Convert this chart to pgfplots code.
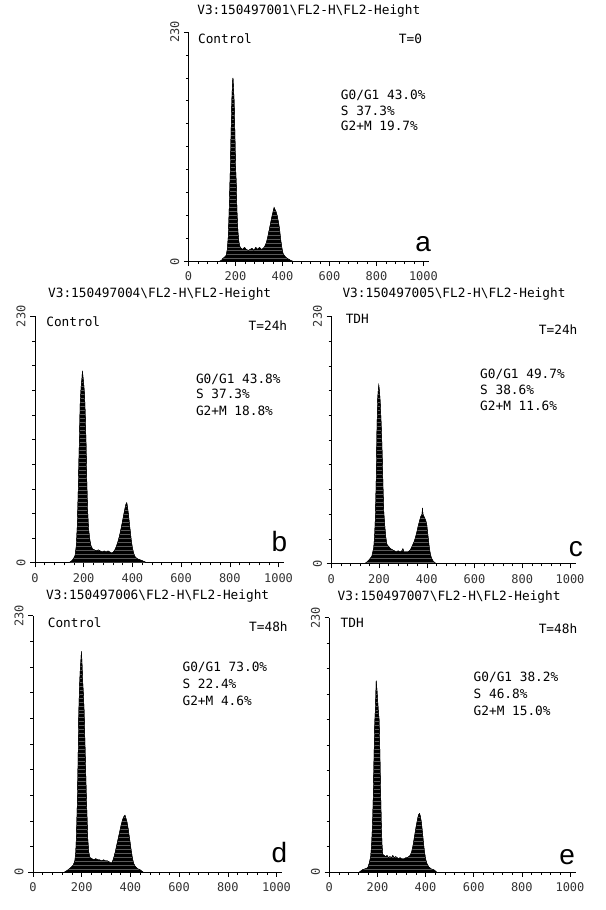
\documentclass[border=0pt]{standalone}
\usepackage{fontspec}
\setmonofont{DejaVu Sans Mono}
\newfontfamily\lettfont{Liberation Sans}
\usepackage{pgfplots}
\pgfplotsset{compat=1.18}
\usetikzlibrary{patterns}

\newcommand{\mt}{\ttfamily\fontsize{9.6}{11}\selectfont}
\newcommand{\tk}{\ttfamily\fontsize{9}{10}\selectfont}
\newcommand{\bs}{\textbackslash}

\pgfplotsset{
  facs/.style={
    scale only axis, anchor=south west, clip=false,
    xmin=0, xmax=1024, ymin=0, ymax=230,
    axis x line=bottom, axis y line=left,
    axis line style={-, black, line width=0.5pt},
    xtick={0,200,400,600,800,1000},
    xticklabels={0,200,400,600,800,1000},
    minor x tick num=4,
    ytick={0,230}, yticklabels={0,230},
    minor ytick={23,46,69,92,115,138,161,184,207},
    tick align=outside,
    major tick length=3.5pt, minor tick length=2pt,
    tick style={black, line width=0.4pt},
    xticklabel style={font=\tk, text=black!80, yshift=-1pt},
    yticklabel style={font=\tk, text=black!80, rotate=90, anchor=south},
    every node/.append style={text=black!80},
  },
  hist/.style={draw=black, line width=0.3pt, fill=black,
    postaction={pattern=horizontal lines, pattern color=white!35!black}},
}

\begin{document}
\begin{tikzpicture}
\path (0,0) rectangle (455.25pt,682.5pt);

% panel a
\begin{axis}[facs, at={(141.75pt,487.5pt)}, width=180.75pt, height=172.5pt]
\addplot[hist] coordinates {(130,0)(140,1)(146,3)(152,4)(160,6)(165,12)(169,25)(172,45)(175,70)(178,95)(181,130)(184,160)(187,180)(189,184)(191,175)(194,160)(197,130)(200,95)(203,78)(206,50)(210,30)(214,20)(218,15)(224,13)(230,12)(238,14)(246,12)(254,11)(262,12)(270,13)(278,11)(286,14)(294,12)(302,14)(310,12)(318,13)(324,15)(330,18)(336,23)(342,30)(348,37)(354,44)(360,50)(364,54)(368,52)(372,50)(377,46)(382,40)(387,33)(392,22)(397,14)(402,8)(410,5)(420,3)(435,1)(445,0)} \closedcycle;
\node[font=\mt, anchor=south] at (rel axis cs:0.5,1.045) {V3:150497001\bs FL2-H\bs FL2-Height};
\node[font=\mt, anchor=west] at (rel axis cs:0.02,0.97) {Control};
\node[font=\mt, anchor=east] at (rel axis cs:0.99,0.97) {T=0};
\node[font=\mt, anchor=west] at (rel axis cs:0.614,0.722) {G0/G1 43.0\%};
\node[font=\mt, anchor=west] at (rel axis cs:0.614,0.657) {S 37.3\%};
\node[font=\mt, anchor=west] at (rel axis cs:0.614,0.591) {G2+M 19.7\%};
\node[font=\lettfont\fontsize{21}{21}\selectfont, text=black] at (rel axis cs:0.975,0.075) {a};
\end{axis}

% panel b
\begin{axis}[facs, at={(26.25pt,261pt)}, width=187.5pt, height=185.25pt]
\addplot[hist] coordinates {(140,0)(152,2)(159,4)(165,7)(170,16)(174,35)(177,60)(180,90)(183,120)(186,150)(190,165)(193,172)(195,179)(198,172)(201,165)(204,155)(207,135)(210,110)(213,75)(216,50)(220,32)(225,22)(230,16)(236,13)(244,12)(252,11)(260,12)(268,11)(276,10)(284,11)(292,10)(300,11)(308,10)(316,9)(322,10)(328,12)(334,15)(340,19)(346,24)(352,30)(358,37)(364,44)(369,50)(374,55)(377,56)(380,52)(384,45)(388,36)(392,28)(396,20)(400,14)(405,9)(410,6)(418,4)(428,3)(440,2)(450,1)(458,0)} \closedcycle;
\node[font=\mt, anchor=south] at (rel axis cs:0.5,1.045) {V3:150497004\bs FL2-H\bs FL2-Height};
\node[font=\mt, anchor=west] at (rel axis cs:0.027,0.98) {Control};
\node[font=\mt, anchor=east] at (rel axis cs:1.03,0.963) {T=24h};
\node[font=\mt, anchor=west] at (rel axis cs:0.627,0.746) {G0/G1 43.8\%};
\node[font=\mt, anchor=west] at (rel axis cs:0.627,0.684) {S 37.3\%};
\node[font=\mt, anchor=west] at (rel axis cs:0.627,0.615) {G2+M 18.8\%};
\node[font=\lettfont\fontsize{21}{21}\selectfont, text=black] at (rel axis cs:0.98,0.085) {b};
\end{axis}

% panel c
\begin{axis}[facs, at={(249pt,260.25pt)}, width=183.75pt, height=186pt]
\addplot[hist] coordinates {(140,0)(151,2)(160,4)(170,7)(178,15)(182,28)(185,45)(188,75)(191,120)(194,152)(197,162)(199,166)(202,160)(205,150)(208,135)(211,118)(214,95)(217,68)(220,48)(223,38)(228,25)(233,18)(240,16)(248,14)(256,13)(264,12)(272,11)(280,12)(288,11)(296,12)(300,14)(304,11)(312,11)(320,11)(328,12)(334,14)(340,17)(346,20)(352,24)(358,29)(364,35)(370,40)(375,44)(380,46)(382,52)(384,46)(388,44)(392,42)(396,40)(400,36)(405,26)(410,16)(415,9)(420,5)(428,2)(440,0)} \closedcycle;
\node[font=\mt, anchor=south] at (rel axis cs:0.502,1.045) {V3:150497005\bs FL2-H\bs FL2-Height};
\node[font=\mt, anchor=west] at (rel axis cs:0.04,0.988) {TDH};
\node[font=\mt, anchor=east] at (rel axis cs:1.026,0.948) {T=24h};
\node[font=\mt, anchor=west] at (rel axis cs:0.59,0.766) {G0/G1 49.7\%};
\node[font=\mt, anchor=west] at (rel axis cs:0.59,0.702) {S 38.6\%};
\node[font=\mt, anchor=west] at (rel axis cs:0.59,0.637) {G2+M 11.6\%};
\node[font=\lettfont\fontsize{21}{21}\selectfont, text=black] at (rel axis cs:1.0,0.06) {c};
\end{axis}

% panel d
\begin{axis}[facs, at={(24.75pt,28.5pt)}, width=187.5pt, height=192.75pt]
\addplot[hist] coordinates {(130,0)(144,2)(155,4)(165,6)(172,10)(176,18)(179,35)(182,60)(185,95)(188,140)(191,165)(194,180)(197,190)(199,198)(201,190)(204,172)(207,160)(210,145)(213,120)(216,95)(219,70)(222,50)(225,30)(229,18)(234,13)(242,12)(250,11)(258,12)(266,11)(274,11)(282,10)(290,11)(298,10)(306,10)(314,9)(321,8)(326,9)(332,13)(338,18)(344,24)(350,30)(356,36)(362,42)(368,47)(374,50)(378,51)(382,48)(386,45)(390,40)(394,34)(398,28)(403,20)(408,13)(413,8)(420,5)(430,3)(440,2)(452,0)} \closedcycle;
\node[font=\mt, anchor=south] at (rel axis cs:0.5,1.035) {V3:150497006\bs FL2-H\bs FL2-Height};
\node[font=\mt, anchor=west] at (rel axis cs:0.041,0.974) {Control};
\node[font=\mt, anchor=east] at (rel axis cs:1.04,0.957) {T=48h};
\node[font=\mt, anchor=west] at (rel axis cs:0.581,0.799) {G0/G1 73.0\%};
\node[font=\mt, anchor=west] at (rel axis cs:0.581,0.734) {S 22.4\%};
\node[font=\mt, anchor=west] at (rel axis cs:0.581,0.669) {G2+M 4.6\%};
\node[font=\lettfont\fontsize{21}{21}\selectfont, text=black] at (rel axis cs:0.988,0.075) {d};
\end{axis}

% panel e
\begin{axis}[facs, at={(247.5pt,28.5pt)}, width=185.25pt, height=191.25pt]
\addplot[hist] coordinates {(125,0)(137,2)(150,3)(160,4)(166,8)(172,14)(176,25)(180,45)(183,70)(186,105)(189,135)(192,150)(195,173)(198,165)(201,155)(204,145)(207,138)(210,110)(213,75)(216,45)(219,25)(222,16)(228,15)(234,14)(240,15)(246,13)(252,14)(258,13)(264,15)(270,13)(276,14)(282,13)(288,12)(294,13)(300,12)(306,12)(312,12)(318,13)(324,13)(330,14)(336,15)(342,18)(348,24)(354,32)(360,40)(366,47)(371,52)(375,53)(379,50)(383,44)(387,36)(391,27)(395,19)(400,12)(405,8)(412,5)(422,3)(435,2)(446,0)} \closedcycle;
\node[font=\mt, anchor=south] at (rel axis cs:0.486,1.04) {V3:150497007\bs FL2-H\bs FL2-Height};
\node[font=\mt, anchor=west] at (rel axis cs:0.027,0.981) {TDH};
\node[font=\mt, anchor=east] at (rel axis cs:1.025,0.957) {T=48h};
\node[font=\mt, anchor=west] at (rel axis cs:0.567,0.766) {G0/G1 38.2\%};
\node[font=\mt, anchor=west] at (rel axis cs:0.567,0.7) {S 46.8\%};
\node[font=\mt, anchor=west] at (rel axis cs:0.567,0.635) {G2+M 15.0\%};
\node[font=\lettfont\fontsize{21}{21}\selectfont, text=black] at (rel axis cs:0.965,0.06) {e};
\end{axis}
\end{tikzpicture}
\end{document}
